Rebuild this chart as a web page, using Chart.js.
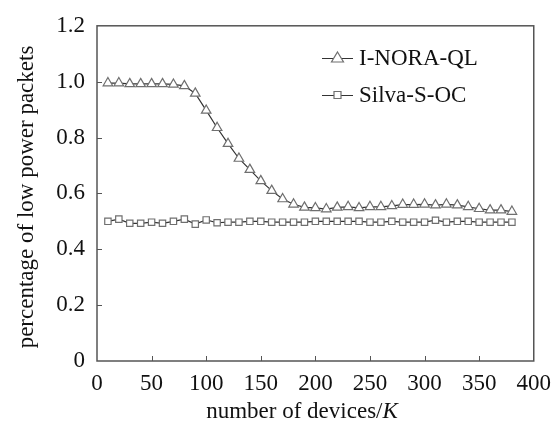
<!DOCTYPE html>
<html><head><meta charset="utf-8">
<script src="https://cdn.jsdelivr.net/npm/chart.js@4.4.1/dist/chart.umd.min.js"></script>
<style>html,body{margin:0;padding:0;background:#fff}#wrap{width:560px;height:434px}</style>
</head><body><div id="wrap"><canvas id="c" width="560" height="434"></canvas></div>
<script>
const devices = [10,20,30,40,50,60,70,80,90,100,110,120,130,140,150,160,170,180,190,200,210,220,230,240,250,260,270,280,290,300,310,320,330,340,350,360,370,380];
const inoraQL = [0.995,0.995,0.992,0.992,0.992,0.992,0.99,0.985,0.958,0.897,0.835,0.778,0.725,0.685,0.645,0.61,0.58,0.561,0.55,0.548,0.544,0.55,0.552,0.548,0.552,0.552,0.555,0.56,0.56,0.561,0.558,0.561,0.558,0.552,0.545,0.54,0.54,0.535];
const silvaSOC = [0.50,0.508,0.493,0.493,0.497,0.493,0.50,0.508,0.49,0.505,0.495,0.497,0.497,0.50,0.50,0.497,0.497,0.497,0.497,0.50,0.50,0.50,0.50,0.50,0.497,0.497,0.50,0.497,0.497,0.497,0.504,0.497,0.50,0.50,0.497,0.497,0.497,0.497];
const yTicks = [0,0.2,0.4,0.6,0.8,1.0,1.2];
const xTicks = [0,50,100,150,200,250,300,350,400];
const seriesNames = ['I-NORA-QL','Silva-S-OC'];
const xTitle = ['number of devices/','K'];
const yTitle = 'percentage of low power packets';

const FONT = '"Liberation Serif","Times New Roman",serif';
const FS = 23;
const AX = '#555';
const MK = '#6f6f6f';
const LN = '#333';

const pts = (ys) => devices.map((d,i)=>({x:d,y:ys[i]}));

const framePlugin = {
  id:'frame',
  afterDraw(chart){
    const ctx = chart.ctx, a = chart.chartArea;
    const xs = chart.scales.x, ys = chart.scales.y;
    ctx.save();
    ctx.strokeStyle = AX; ctx.lineWidth = 1.5;
    ctx.strokeRect(a.left, a.top, a.right-a.left, a.bottom-a.top);
    ctx.lineWidth = 1;
    xTicks.forEach(v=>{ if(v===0||v===400) return; const px = Math.round(xs.getPixelForValue(v))+0.5; ctx.beginPath(); ctx.moveTo(px,a.bottom); ctx.lineTo(px,a.bottom-5); ctx.stroke(); });
    yTicks.forEach(v=>{ if(v===0||v===1.2) return; const py = Math.round(ys.getPixelForValue(v))+0.5; ctx.beginPath(); ctx.moveTo(a.left,py); ctx.lineTo(a.left+5,py); ctx.stroke(); });
    // axis titles
    ctx.fillStyle = '#111';
    ctx.textBaseline = 'middle';
    ctx.font = FS+'px ' + FONT;
    const w1 = ctx.measureText(xTitle[0]).width;
    ctx.font = 'italic '+FS+'px ' + FONT;
    const w2 = ctx.measureText(xTitle[1]).width;
    let sx = 302 - (w1+w2)/2;
    ctx.font = FS+'px ' + FONT; ctx.textAlign='left';
    ctx.fillText(xTitle[0], sx, 412);
    ctx.font = 'italic '+FS+'px ' + FONT;
    ctx.fillText(xTitle[1], sx + w1, 412);
    ctx.save();
    ctx.translate(27, 197); ctx.rotate(-Math.PI/2);
    ctx.font = FS+'px ' + FONT; ctx.textAlign='center';
    ctx.fillText(yTitle, 0, 0);
    ctx.restore();
    // legend
    const rows = [58, 95];
    chart.data.datasets.forEach((ds,i)=>{
      const y = rows[i];
      ctx.strokeStyle = LN; ctx.lineWidth = 1;
      ctx.beginPath(); ctx.moveTo(322,y+0.5); ctx.lineTo(353,y+0.5); ctx.stroke();
      ctx.strokeStyle = MK; ctx.fillStyle = '#fff'; ctx.lineWidth = 1.2;
      if (ds.pointStyle==='triangle'){
        ctx.beginPath(); ctx.moveTo(337.5,y-6); ctx.lineTo(343.5,y+4); ctx.lineTo(331.5,y+4); ctx.closePath(); ctx.fill(); ctx.stroke();
      } else {
        ctx.beginPath(); ctx.rect(334,y-3.5,7,7); ctx.fill(); ctx.stroke();
      }
      ctx.fillStyle = '#111'; ctx.font = FS+'px ' + FONT; ctx.textAlign='left'; ctx.textBaseline='middle';
      ctx.fillText(ds.label, 359, y+1);
    });
    ctx.restore();
  }
};

new Chart(document.getElementById('c'), {
  type:'line',
  data:{datasets:[
    {label:seriesNames[0], data:pts(inoraQL), borderColor:LN, borderWidth:1.2, pointStyle:'triangle', pointRadius:5.5, pointBorderColor:MK, pointBackgroundColor:'#fff', pointBorderWidth:1.2, tension:0},
    {label:seriesNames[1], data:pts(silvaSOC), borderColor:LN, borderWidth:1.2, pointStyle:'rect', pointRadius:4.5, pointBorderColor:MK, pointBackgroundColor:'#fff', pointBorderWidth:1.2, tension:0}
  ]},
  options:{
    responsive:false, animation:false, devicePixelRatio:1,
    layout:{padding:{top:16,right:23,left:0,bottom:0}},
    plugins:{legend:{display:false}, tooltip:{enabled:false}},
    scales:{
      x:{type:'linear', min:0, max:400, afterBuildTicks:(s)=>{s.ticks = xTicks.map(v=>({value:v}));},
        afterFit:(s)=>{s.height=73;},
        grid:{display:false, drawTicks:false}, border:{display:false},
        ticks:{padding:9, color:'#111', font:{family:FONT,size:FS}, maxRotation:0, autoSkip:false}},
      y:{min:0, max:1.2, afterBuildTicks:(s)=>{s.ticks = yTicks.map(v=>({value:v}));},
        afterFit:(s)=>{s.width=97;},
        grid:{display:false, drawTicks:false}, border:{display:false},
        ticks:{padding:12, color:'#111', font:{family:FONT,size:FS}, callback:(v)=> v===0?'0':v.toFixed(1)}}
    }
  },
  plugins:[framePlugin]
});
</script></body></html>
